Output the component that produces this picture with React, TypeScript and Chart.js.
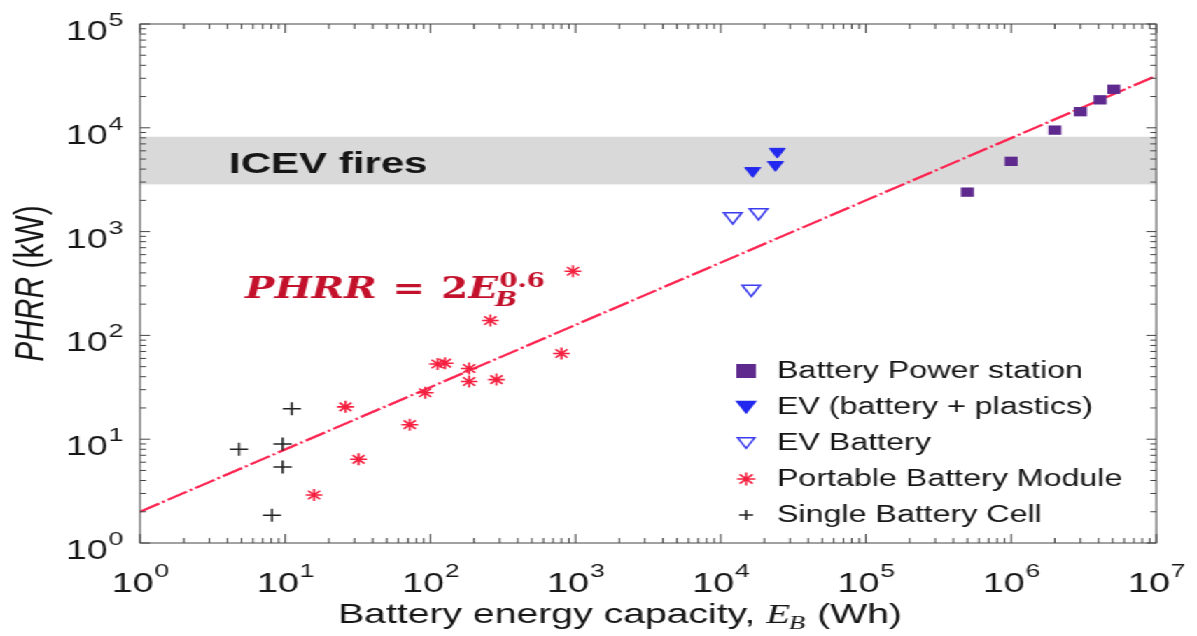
import React, { useEffect, useRef } from 'react';
import { Chart, registerables } from 'chart.js';

Chart.register(...registerables);

// ---------------- data ----------------
const seriesNames = [
  'Battery Power station',
  'EV (battery + plastics)',
  'EV Battery',
  'Portable Battery Module',
  'Single Battery Cell',
];

const stationE = [5.0e5, 1.0e6, 2.0e6, 3.0e6, 4.1e6, 5.1e6];
const stationP = [2400, 4750, 9500, 14300, 18600, 23500];

const evPlasticE = [16600, 23800, 24500];
const evPlasticP = [3850, 4400, 5900];

const evBatteryE = [12100, 18200, 16200];
const evBatteryP = [1400, 1530, 280];

const moduleE = [15.8, 26, 32, 72, 92, 112, 126, 185, 185, 285, 259, 800, 960];
const moduleP = [2.9, 20.5, 6.4, 13.8, 28, 53, 54, 48, 36, 37.5, 139, 67, 415];

const cellE = [4.8, 8.1, 9.6, 9.6, 11.1];
const cellP = [8.0, 1.85, 9.0, 5.4, 19.7];

const fitE = [1, 1e7];
const fitP = [2, 31700];

const xTickValues = [1, 10, 100, 1e3, 1e4, 1e5, 1e6, 1e7];
const xTickExponents = ['0', '1', '2', '3', '4', '5', '6', '7'];
const yTickValues = [1, 10, 100, 1e3, 1e4, 1e5];
const yTickExponents = ['0', '1', '2', '3', '4', '5'];
const tickBase = '10';

const icevBand = [2850, 8200];
const icevLabel = 'ICEV fires';
const icevLabelAt = [4.1, 3700];
const formulaAt = [5.3, 231];

// ---------------- layout / style ----------------
const STRETCH = 1.4;
const W = 855;
const H = 636;
const SANS = '"Liberation Sans", Arial, Helvetica, sans-serif';
const MATHSERIF = '"DejaVu Serif", "Liberation Serif", serif';
const TSERIF = '"Liberation Serif", "Times New Roman", serif';

const colors = {
  station: '#5f2a8e',
  evPlastic: '#2228ee',
  evBattery: '#3b3bef',
  module: '#f5203f',
  cell: '#222222',
  fit: '#ff2350',
  formula: '#c3112b',
  band: '#d9d9d9',
  axis: '#444444',
  text: '#161616',
};

type MarkerKind = 'rect' | 'triFill' | 'triOpen' | 'star' | 'cross';
const legendMarkers: { kind: MarkerKind; r: number; color: string }[] = [
  { kind: 'rect', r: 7, color: colors.station },
  { kind: 'triFill', r: 7.5, color: colors.evPlastic },
  { kind: 'triOpen', r: 7, color: colors.evBattery },
  { kind: 'star', r: 6.5, color: colors.module },
  { kind: 'cross', r: 5, color: colors.cell },
];

function drawMarker(ctx: CanvasRenderingContext2D, kind: MarkerKind, x: number, y: number, r: number, color: string) {
  ctx.save();
  ctx.beginPath();
  ctx.lineWidth = 1.5;
  ctx.strokeStyle = color;
  ctx.fillStyle = color;
  if (kind === 'rect') {
    ctx.rect(x - r, y - r, 2 * r, 2 * r);
    ctx.fill();
  } else if (kind === 'triFill' || kind === 'triOpen') {
    const yc = y - 0.25 * r;
    ctx.moveTo(x - r * 0.866, yc - r * 0.5);
    ctx.lineTo(x + r * 0.866, yc - r * 0.5);
    ctx.lineTo(x, yc + r);
    ctx.closePath();
    if (kind === 'triFill') ctx.fill();
    ctx.stroke();
  } else if (kind === 'star') {
    ctx.moveTo(x - r, y); ctx.lineTo(x + r, y);
    ctx.moveTo(x, y - r); ctx.lineTo(x, y + r);
    const d = r * 0.707;
    ctx.moveTo(x - d, y - d); ctx.lineTo(x + d, y + d);
    ctx.moveTo(x - d, y + d); ctx.lineTo(x + d, y - d);
    ctx.stroke();
  } else {
    ctx.moveTo(x - r, y); ctx.lineTo(x + r, y);
    ctx.moveTo(x, y - r); ctx.lineTo(x, y + r);
    ctx.stroke();
  }
  ctx.restore();
}

function tickSet(lo: number, hi: number) {
  const out: { v: number; major: boolean }[] = [];
  for (let e = lo; e < hi; e++) {
    for (let m = 1; m < 10; m++) out.push({ v: m * Math.pow(10, e), major: m === 1 });
  }
  out.push({ v: Math.pow(10, hi), major: true });
  return out;
}

const TICK_FONT = 27;
const SUP_FONT = 19;

const decorations = {
  id: 'decorations',
  beforeDatasetsDraw(chart: any) {
    const { ctx, chartArea: a, scales } = chart;
    const xs = scales.x;
    const ys = scales.y;
    ctx.save();
    const top = ys.getPixelForValue(icevBand[1]);
    const bot = ys.getPixelForValue(icevBand[0]);
    ctx.fillStyle = colors.band;
    ctx.fillRect(a.left, top, a.right - a.left, bot - top);
    ctx.font = `bold 30px ${SANS}`;
    ctx.fillStyle = colors.text;
    ctx.textBaseline = 'alphabetic';
    ctx.textAlign = 'left';
    ctx.fillText(icevLabel, xs.getPixelForValue(icevLabelAt[0]), ys.getPixelForValue(icevLabelAt[1]));
    ctx.restore();
  },
  afterDatasetsDraw(chart: any) {
    const { ctx, chartArea: a, scales } = chart;
    const xs = scales.x;
    const ys = scales.y;

    // ---- frame with inward ticks ----
    ctx.save();
    ctx.strokeStyle = colors.axis;
    ctx.lineWidth = 1;
    ctx.beginPath();
    for (const t of tickSet(0, 7)) {
      const px = xs.getPixelForValue(t.v);
      const len = t.major ? 9 : 5;
      ctx.moveTo(px, a.bottom); ctx.lineTo(px, a.bottom - len);
      ctx.moveTo(px, a.top); ctx.lineTo(px, a.top + len);
    }
    for (const t of tickSet(0, 5)) {
      const py = ys.getPixelForValue(t.v);
      const len = (t.major ? 10 : 6) / STRETCH;
      ctx.moveTo(a.left, py); ctx.lineTo(a.left + len, py);
      ctx.moveTo(a.right, py); ctx.lineTo(a.right - len, py);
    }
    ctx.stroke();
    ctx.strokeRect(a.left, a.top, a.right - a.left, a.bottom - a.top);
    ctx.restore();

    // ---- tick labels (10 with superscript exponent) ----
    ctx.save();
    ctx.fillStyle = colors.text;
    ctx.textBaseline = 'alphabetic';
    ctx.textAlign = 'left';
    xTickValues.forEach((v, i) => {
      const px = xs.getPixelForValue(v);
      ctx.font = `${TICK_FONT}px ${SANS}`;
      const wb = ctx.measureText(tickBase).width;
      ctx.font = `${SUP_FONT}px ${SANS}`;
      const we = ctx.measureText(xTickExponents[i]).width;
      const start = px - (wb + we) / 2;
      const base = a.bottom + 49;
      ctx.font = `${TICK_FONT}px ${SANS}`;
      ctx.fillText(tickBase, start, base);
      ctx.font = `${SUP_FONT}px ${SANS}`;
      ctx.fillText(xTickExponents[i], start + wb + 0.5, base - 15);
    });
    yTickValues.forEach((v, i) => {
      const py = ys.getPixelForValue(v);
      ctx.font = `${TICK_FONT}px ${SANS}`;
      const wb = ctx.measureText(tickBase).width;
      ctx.font = `${SUP_FONT}px ${SANS}`;
      const we = ctx.measureText(yTickExponents[i]).width;
      const right = a.left - 12;
      const base = py + 16;
      ctx.font = `${TICK_FONT}px ${SANS}`;
      ctx.fillText(tickBase, right - we - 0.5 - wb, base);
      ctx.font = `${SUP_FONT}px ${SANS}`;
      ctx.fillText(yTickExponents[i], right - we, base - 14);
    });
    ctx.restore();

    // ---- formula annotation ----
    {
      const x0 = xs.getPixelForValue(formulaAt[0]);
      const y0 = ys.getPixelForValue(formulaAt[1]);
      const fMain = 30;
      const fSmall = 20;
      ctx.save();
      ctx.font = `italic bold ${fMain}px ${MATHSERIF}`;
      const wP = ctx.measureText('PHRR').width;
      const wE = ctx.measureText('E').width;
      ctx.font = `bold ${fMain}px ${MATHSERIF}`;
      const wEq = ctx.measureText('=').width;
      const w2 = ctx.measureText('2').width;
      ctx.font = `bold ${fSmall}px ${MATHSERIF}`;
      const wSup = ctx.measureText('0.6').width;
      const gap = 0.4 * fMain;
      const natural = wP + gap + wEq + gap + w2 + wE + 1 + wSup;
      const k = 214 / natural;
      ctx.translate(x0, y0);
      ctx.scale(k, 1);
      ctx.fillStyle = colors.formula;
      ctx.textBaseline = 'alphabetic';
      ctx.textAlign = 'left';
      let cx = 0;
      ctx.font = `italic bold ${fMain}px ${MATHSERIF}`;
      ctx.fillText('PHRR', cx, 0);
      cx += wP + gap;
      ctx.font = `bold ${fMain}px ${MATHSERIF}`;
      ctx.fillText('=', cx, 0);
      cx += wEq + gap;
      ctx.fillText('2', cx, 0);
      cx += w2;
      ctx.font = `italic bold ${fMain}px ${MATHSERIF}`;
      ctx.fillText('E', cx, 0);
      cx += wE + 1;
      ctx.font = `bold ${fSmall}px ${MATHSERIF}`;
      ctx.fillText('0.6', cx, -11);
      ctx.font = `italic bold ${fSmall}px ${MATHSERIF}`;
      ctx.fillText('B', cx - 3, 8);
      ctx.restore();
    }

    // ---- legend ----
    {
      const markerX = 533;
      const textX = 555;
      const rowY0 = 371;
      const step = 36;
      ctx.save();
      ctx.font = `23px ${SANS}`;
      ctx.textBaseline = 'middle';
      ctx.textAlign = 'left';
      seriesNames.forEach((name, i) => {
        const y = rowY0 + i * step;
        const m = legendMarkers[i];
        drawMarker(ctx, m.kind, markerX, y, m.r, m.color);
        ctx.fillStyle = colors.text;
        ctx.fillText(name, textX, y + 1);
      });
      ctx.restore();
    }

    // ---- x axis title ----
    {
      const f = 28;
      const fs = 19;
      const left = 241.4;
      const base = 623;
      ctx.save();
      ctx.font = `${f}px ${SANS}`;
      const p1 = 'Battery energy capacity, ';
      const p4 = ' (Wh)';
      const w1 = ctx.measureText(p1).width;
      const w4 = ctx.measureText(p4).width;
      ctx.font = `italic ${f}px ${TSERIF}`;
      const wE = ctx.measureText('E').width;
      ctx.font = `italic ${fs}px ${TSERIF}`;
      const wB = ctx.measureText('B').width;
      const natural = w1 + wE + wB + w4;
      const k = 403 / natural;
      ctx.translate(left, base);
      ctx.scale(k, 1);
      ctx.fillStyle = colors.text;
      ctx.textBaseline = 'alphabetic';
      ctx.textAlign = 'left';
      let cx = 0;
      ctx.font = `${f}px ${SANS}`;
      ctx.fillText(p1, cx, 0); cx += w1;
      ctx.font = `italic ${f}px ${TSERIF}`;
      ctx.fillText('E', cx, 0); cx += wE;
      ctx.font = `italic ${fs}px ${TSERIF}`;
      ctx.fillText('B', cx - 1, 6); cx += wB;
      ctx.font = `${f}px ${SANS}`;
      ctx.fillText(p4, cx, 0);
      ctx.restore();
    }

    // ---- y axis title ----
    {
      const f = 30;
      ctx.save();
      ctx.translate(23, (a.top + a.bottom) / 2);
      ctx.rotate(-Math.PI / 2);
      ctx.font = `italic ${f}px ${SANS}`;
      const w1 = ctx.measureText('PHRR').width;
      ctx.font = `${f}px ${SANS}`;
      const w2 = ctx.measureText(' (kW)').width;
      const start = -(w1 + w2) / 2;
      ctx.fillStyle = colors.text;
      ctx.textBaseline = 'middle';
      ctx.textAlign = 'left';
      ctx.font = `italic ${f}px ${SANS}`;
      ctx.fillText('PHRR', start, 0);
      ctx.font = `${f}px ${SANS}`;
      ctx.fillText(' (kW)', start + w1, 0);
      ctx.restore();
    }
  },
};

function pts(xs: number[], ys: number[]) {
  return xs.map((x, i) => ({ x, y: ys[i] }));
}

export default function App() {
  const ref = useRef<HTMLCanvasElement>(null);

  useEffect(() => {
    if (!ref.current) return;
    const chart = new Chart(ref.current, {
      type: 'scatter',
      data: {
        datasets: [
          {
            label: seriesNames[0],
            data: pts(stationE, stationP),
            pointStyle: 'rect',
            pointRadius: 6.6,
            backgroundColor: colors.station,
            borderColor: colors.station,
            borderWidth: 0,
          },
          {
            label: seriesNames[1],
            data: pts(evPlasticE, evPlasticP),
            pointStyle: 'triangle',
            rotation: 180,
            pointRadius: 6.5,
            backgroundColor: colors.evPlastic,
            borderColor: colors.evPlastic,
            borderWidth: 1,
          },
          {
            label: seriesNames[2],
            data: pts(evBatteryE, evBatteryP),
            pointStyle: 'triangle',
            rotation: 180,
            pointRadius: 7.5,
            backgroundColor: 'rgba(255,255,255,0)',
            borderColor: colors.evBattery,
            borderWidth: 1.5,
          },
          {
            label: seriesNames[3],
            data: pts(moduleE, moduleP),
            pointStyle: 'star',
            pointRadius: 6,
            backgroundColor: colors.module,
            borderColor: colors.module,
            borderWidth: 1.6,
          },
          {
            label: seriesNames[4],
            data: pts(cellE, cellP),
            pointStyle: 'cross',
            pointRadius: 6.5,
            backgroundColor: colors.cell,
            borderColor: colors.cell,
            borderWidth: 1.5,
          },
          {
            label: 'PHRR = 2E_B^0.6',
            data: pts(fitE, fitP),
            showLine: true,
            pointRadius: 0,
            borderColor: colors.fit,
            borderWidth: 2.2,
            borderDash: [16, 2.5, 2, 2.5],
            fill: false,
          },
        ],
      },
      options: {
        responsive: false,
        animation: false,
        events: [],
        layout: { padding: { top: 24, right: 29, left: 0, bottom: 0 } },
        plugins: {
          legend: { display: false },
          tooltip: { enabled: false },
          title: { display: false },
        },
        scales: {
          x: {
            type: 'logarithmic',
            min: 1,
            max: 1e7,
            grid: { display: false },
            border: { display: false },
            title: { display: false },
            afterBuildTicks: (s: any) => {
              s.ticks = xTickValues.map((v) => ({ value: v }));
            },
            afterFit: (s: any) => {
              s.height = 93;
              s.paddingLeft = 0;
              s.paddingRight = 0;
            },
            ticks: { display: false },
          },
          y: {
            type: 'logarithmic',
            min: 1,
            max: 1e5,
            grid: { display: false },
            border: { display: false },
            title: { display: false },
            afterBuildTicks: (s: any) => {
              s.ticks = yTickValues.map((v) => ({ value: v }));
            },
            afterFit: (s: any) => {
              s.width = 100;
              s.paddingTop = 0;
              s.paddingBottom = 0;
            },
            ticks: { display: false },
          },
        },
      },
      plugins: [decorations],
    } as any);
    return () => chart.destroy();
  }, []);

  return (
    <div
      style={{
        position: 'fixed',
        left: 0,
        top: 0,
        width: W,
        height: H,
        transform: `scaleX(${STRETCH})`,
        transformOrigin: '0 0',
        background: '#ffffff',
      }}
    >
      <canvas ref={ref} width={W} height={H} style={{ width: W, height: H, display: 'block' }} />
    </div>
  );
}
